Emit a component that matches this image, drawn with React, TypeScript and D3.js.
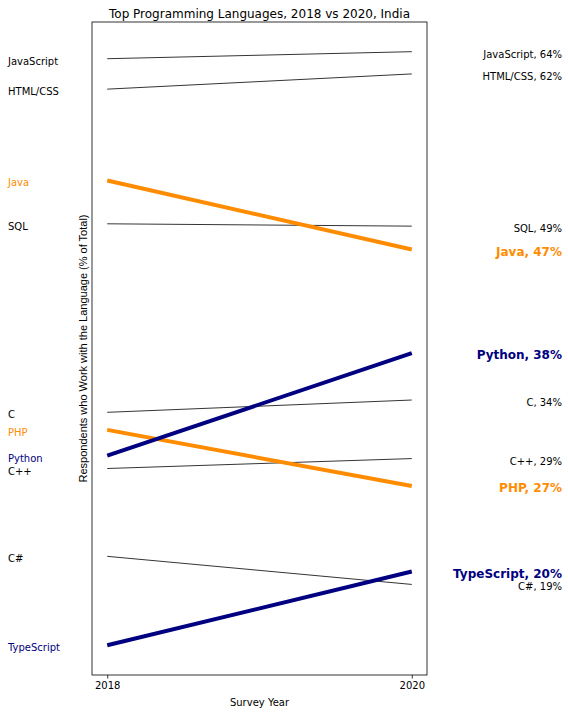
import React, { useEffect, useRef } from 'react'

import * as d3 from 'd3'

const years = [2018, 2020]

const languages = [
  'JavaScript',
  'HTML/CSS',
  'Java',
  'SQL',
  'C',
  'PHP',
  'Python',
  'C++',
  'C#',
  'TypeScript',
]

const share2018 = [63.6, 61.0, 53.2, 49.5, 33.4, 31.9, 29.7, 28.6, 21.1, 13.5]
const share2020 = [64.2, 62.3, 47.3, 49.3, 34.45, 27.1, 38.45, 29.45, 18.7, 19.8]

// languages that get the highlighted colour
const highlight: Record<string, string> = {
  Java: 'darkorange',
  PHP: 'darkorange',
  Python: 'navy',
  TypeScript: 'navy',
}

const font = 'DejaVu Sans, sans-serif'

const App = () => {
  const svgRef = useRef<SVGSVGElement>(null)

  useEffect(() => {
    document.body.style.margin = '0'
    if (!svgRef.current) return

    const width = 568
    const height = 713
    const margin = { top: 22, right: 141, bottom: 38, left: 92 }
    const x0 = margin.left
    const x1 = width - margin.right
    const y0 = margin.top
    const y1 = height - margin.bottom

    const all = [...share2018, ...share2020]
    const [lo, hi] = d3.extent(all) as [number, number]
    const padY = (hi - lo) * 0.05
    const padX = (years[1] - years[0]) * 0.05

    const x = d3
      .scaleLinear()
      .domain([years[0] - padX, years[1] + padX])
      .range([x0, x1])
    const y = d3
      .scaleLinear()
      .domain([lo - padY, hi + padY])
      .range([y1, y0])

    const svg = d3
      .select(svgRef.current)
      .attr('width', width)
      .attr('height', height)
      .attr('viewBox', [0, 0, width, height])
      .style('font-family', font)

    // the lines, thin ones first so the coloured ones sit on top
    const rows = languages.map((name, i) => ({
      name,
      v: [share2018[i], share2020[i]],
      color: highlight[name],
    }))
    const ordered = [...rows.filter((r) => !r.color), ...rows.filter((r) => r.color)]

    const line = d3
      .line<number>()
      .x((d, i) => x(years[i]))
      .y((d) => y(d))

    svg
      .append('g')
      .selectAll('path')
      .data(ordered)
      .join('path')
      .attr('fill', 'none')
      .attr('stroke', (d) => d.color ?? 'black')
      .attr('stroke-width', (d) => (d.color ? 4 : 0.8))
      .attr('d', (d) => line(d.v))

    // axes frame
    svg
      .append('rect')
      .attr('x', x0)
      .attr('y', y0)
      .attr('width', x1 - x0)
      .attr('height', y1 - y0)
      .attr('fill', 'none')
      .attr('stroke', 'black')
      .attr('stroke-width', 0.8)

    const xAxis = d3
      .axisBottom(x)
      .tickValues(years)
      .tickFormat(d3.format('d'))
      .tickSize(3.5)
      .tickPadding(3.5)

    svg
      .append('g')
      .attr('transform', `translate(0,${y1})`)
      .call(xAxis)
      .call((g) => g.select('.domain').remove())
      .call((g) => g.selectAll('.tick line').attr('stroke-width', 0.8))
      .call((g) =>
        g.selectAll('.tick text').attr('font-size', 10).attr('font-family', font).attr('fill', 'black'),
      )

    // left labels (2018)
    svg
      .append('g')
      .selectAll('text')
      .data(rows)
      .join('text')
      .attr('x', 8)
      .attr('y', (d) => y(d.v[0]))
      .attr('dy', '0.6em')
      .attr('font-size', 10)
      .attr('fill', (d) => d.color ?? 'black')
      .text((d) => d.name)

    // right labels (2020)
    svg
      .append('g')
      .selectAll('text')
      .data(rows)
      .join('text')
      .attr('x', 562)
      .attr('y', (d) => y(d.v[1]))
      .attr('dy', (d) => (d.color ? '0.5em' : '0.6em'))
      .attr('text-anchor', 'end')
      .attr('font-size', (d) => (d.color ? 12 : 10))
      .attr('font-weight', (d) => (d.color ? 'bold' : 'normal'))
      .attr('fill', (d) => d.color ?? 'black')
      .text((d) => `${d.name}, ${Math.round(d.v[1])}%`)

    svg
      .append('text')
      .attr('x', (x0 + x1) / 2)
      .attr('y', 18)
      .attr('text-anchor', 'middle')
      .attr('font-size', 12)
      .text('Top Programming Languages, 2018 vs 2020, India')

    svg
      .append('text')
      .attr('x', (x0 + x1) / 2)
      .attr('y', 706)
      .attr('text-anchor', 'middle')
      .attr('font-size', 10)
      .text('Survey Year')

    svg
      .append('text')
      .attr('transform', `translate(87,${(y0 + y1) / 2}) rotate(-90)`)
      .attr('text-anchor', 'middle')
      .attr('font-size', 11)
      .attr('font-family', 'Liberation Sans, Arial, sans-serif')
      .text('Respondents who Work with the Language (% of Total)')

    return () => {
      svg.selectAll('*').remove()
    }
  }, [])

  return <svg ref={svgRef} style={{ display: 'block' }} />
}

export default App
